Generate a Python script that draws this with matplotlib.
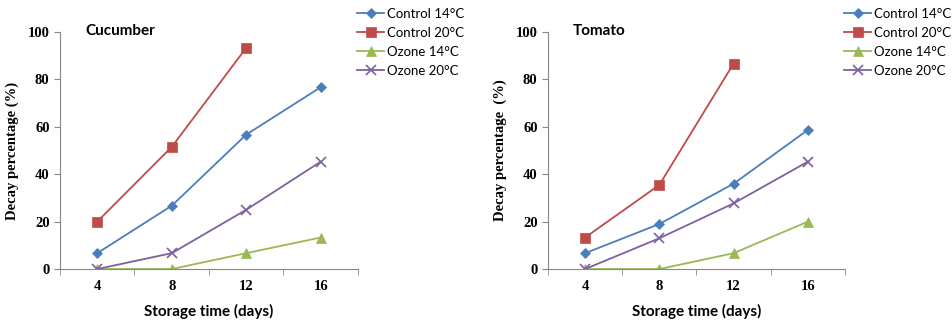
import numpy as np
import matplotlib.pyplot as plt

days = ['4', '8', '12', '16']
labels = ['Control 14°C', 'Control 20°C', 'Ozone 14°C', 'Ozone 20°C']

cuc_control14 = [6.7, 26.7, 56.7, 76.7]
cuc_control20 = [20.0, 51.5, 93.3]
cuc_ozone14 = [0.0, 0.0, 6.7, 13.3]
cuc_ozone20 = [0.0, 6.7, 25.0, 45.3]

tom_control14 = [6.7, 19.0, 36.0, 58.7]
tom_control20 = [13.3, 35.5, 86.7]
tom_ozone14 = [0.0, 0.0, 6.7, 20.0]
tom_ozone20 = [0.0, 13.0, 27.7, 45.3]

colors = ['#4A7EBB', '#BE4B48', '#98B954', '#7D60A0']
markers = ['D', 's', '^', 'x']
msizes = [5.5, 7, 7, 7]

serif = ['Liberation Serif', 'DejaVu Serif']
sans = ['Lato', 'DejaVu Sans']

fig = plt.figure(figsize=(9.52, 3.23), dpi=100)


def panel(rect, series, title, ylabel, leg_x):
    ax = fig.add_axes(rect)
    x = np.arange(len(days))
    for vals, c, m, ms, lab in zip(series, colors, markers, msizes, labels):
        ax.plot(x[:len(vals)], vals, color=c, marker=m, markersize=ms, lw=1.3,
                label=lab, markeredgewidth=1.2 if m == 'x' else 0.5)
    ax.set_xlim(-0.5, 3.5)
    ax.set_ylim(0, 100)
    ax.set_yticks([0, 20, 40, 60, 80, 100])
    ax.set_xticks(x)
    ax.set_xticklabels(days)
    ax.set_xticks(np.arange(-0.5, 4, 1), minor=True)
    ax.tick_params(axis='x', which='major', length=0, pad=8)
    ax.tick_params(axis='x', which='minor', length=4, direction='out', color='#868686')
    ax.tick_params(axis='y', length=4, direction='out', color='#868686')
    for t in ax.get_xticklabels() + ax.get_yticklabels():
        t.set_fontfamily(serif)
        t.set_fontweight('bold')
        t.set_fontsize(10.5)
    for s in ['top', 'right']:
        ax.spines[s].set_visible(False)
    for s in ['left', 'bottom']:
        ax.spines[s].set_color('#868686')
    ax.set_ylabel(ylabel, family=serif, fontweight='bold', fontsize=10.5, labelpad=6)
    ax.set_xlabel('Storage time (days)', family=sans, fontweight='bold', fontsize=11, labelpad=8)
    ax.text(0.085, 1.005, title, transform=ax.transAxes, family=sans,
            fontweight='bold', fontsize=11, va='center', ha='left')
    fig.legend(*ax.get_legend_handles_labels(), loc='upper left',
               bbox_to_anchor=(leg_x, 0.975), frameon=False,
               prop={'family': sans, 'size': 9.5}, handlelength=2.05,
               handletextpad=0.25, labelspacing=0.52, borderaxespad=0,
               borderpad=0)
    return ax


panel([0.063, 0.167, 0.313, 0.734],
      [cuc_control14, cuc_control20, cuc_ozone14, cuc_ozone20],
      'Cucumber', 'Decay percentage (%)', 0.375)
panel([0.5756, 0.167, 0.312, 0.734],
      [tom_control14, tom_control20, tom_ozone14, tom_ozone20],
      'Tomato', 'Decay percentage  (%)', 0.8866)

fig.savefig('out.png', dpi=100)
